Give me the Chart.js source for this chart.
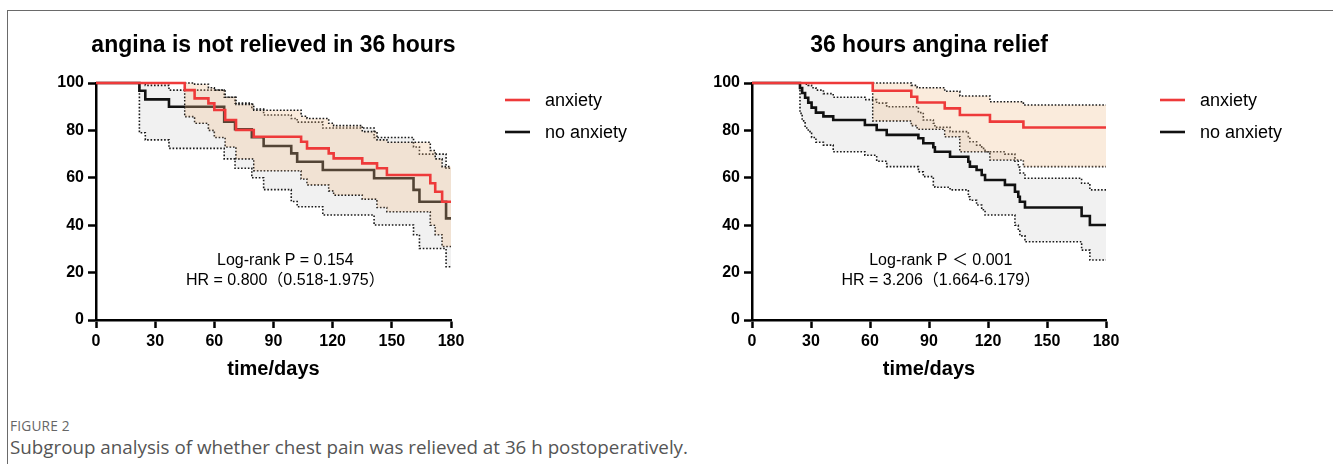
<!DOCTYPE html>
<html><head><meta charset="utf-8">
<script src="https://cdn.jsdelivr.net/npm/chart.js@4.4.1/dist/chart.umd.min.js"></script>
<style>
html,body{margin:0;padding:0;background:#fff;width:1333px;height:464px;overflow:hidden;}
#frame{position:absolute;left:7px;top:10px;width:1340px;height:520px;border:1px solid #6a6a6a;box-sizing:border-box;}
.cw{position:absolute;top:0;height:400px;}
#c1w{left:0;width:666px;}
#c2w{left:656px;width:677px;}
#cap1{position:absolute;left:10px;top:416px;font:13.7px 'Open Sans',sans-serif;color:#666;letter-spacing:0.2px;}
#cap2{position:absolute;left:10px;top:434px;font:18.8px 'Open Sans',sans-serif;color:#555;}
</style></head><body>
<div id="frame"></div>
<div class="cw" id="c1w"><canvas id="c1"></canvas></div>
<div class="cw" id="c2w"><canvas id="c2"></canvas></div>
<div id="cap1">FIGURE 2</div>
<div id="cap2">Subgroup analysis of whether chest pain was relieved at 36 h postoperatively.</div>
<script>
// ---- tick labels / text ----
const xTicks = [0, 30, 60, 90, 120, 150, 180];
const yTicks = [0, 20, 40, 60, 80, 100];
const seriesNames = ['anxiety', 'no anxiety'];
const panelTitles = ['angina is not relieved in 36 hours', '36 hours angina relief'];
const statsLeft = ['Log-rank P = 0.154', 'HR = 0.800（0.518-1.975）'];
const statsRight = ['Log-rank P ＜ 0.001', 'HR = 3.206（1.664-6.179）'];
const xTitle = 'time/days';

// ---- Left panel: angina not relieved in 36 h ----
const nrAnxT = [0, 45, 50, 57, 60, 65.5, 71, 80, 104, 107, 118, 120.5, 135, 142.5, 147.5, 169.5, 172, 175.5, 180];
const nrAnxS = [100, 97, 93.5, 91.4, 88.6, 84.4, 80.2, 77.3, 75.2, 72.4, 70.3, 68.2, 66.1, 64, 61.2, 57.7, 54.1, 49.9, 49.9];
const nrAnxU = [100, 100, 99.5, 98, 97, 94, 91, 88.5, 86, 85, 83, 82, 79.5, 76, 75, 71.5, 68, 64.7, 64.7];
const nrAnxL = [100, 85.8, 83, 80, 77, 73, 68, 63, 59.5, 57, 54.5, 52.7, 51, 47.5, 45.7, 40, 36, 31, 31];

const nrNoT = [0, 22, 25, 37, 65, 70.5, 79, 85, 99, 102, 115, 141, 161, 164, 177.5, 180];
const nrNoS = [100, 96.7, 93.1, 90, 83.7, 80.5, 77.1, 73.4, 70.3, 66.8, 63.3, 59.8, 54.9, 49.9, 42.9, 42.9];
const nrNoU = [100, 100, 99, 97, 94, 91.5, 89, 86.5, 85, 83.5, 81, 77, 73, 70, 64, 64];
const nrNoL = [100, 79, 76, 72.4, 68, 64, 60, 55, 50, 47.8, 44.3, 40.1, 36, 30.2, 22.5, 22.5];

// ---- Right panel: angina relieved in 36 h ----
const rAnxT = [0, 61.4, 81, 84, 98, 105.7, 121, 138, 180];
const rAnxS = [100, 96.7, 94.2, 91.8, 89.3, 86.5, 83.7, 81.2, 81.2];
const rAnxU = [100, 100, 99, 98, 96.5, 94.5, 92.1, 90.7, 90.7];
const rAnxL = [100, 84, 82, 80.5, 77.3, 71, 67.5, 64.7, 64.7];

const rNoT = [0, 24.4, 25.5, 27, 28.6, 30.3, 32.5, 36.3, 41.3, 57.4, 63.4, 68.5, 84.6, 87.1, 92.2, 93, 100.7, 110, 110.8, 114.2, 116.8, 118.5, 128.6, 133.7, 135.4, 136.2, 138.8, 167.6, 171.8, 180];
const rNoS = [100, 97.9, 95.8, 93.8, 91.7, 89.6, 87.5, 85.9, 84.4, 82.3, 80.2, 78.1, 76.7, 74.6, 72.9, 71, 68.9, 66.8, 64.7, 63.3, 61.2, 59.1, 57, 54.1, 52, 49.9, 47.5, 43.9, 40.1, 40.1];
const rNoU = [100, 100, 100, 99.5, 99, 98, 97, 95.5, 94, 93, 91.5, 90, 87.5, 84.4, 83, 81.3, 79.5, 77.3, 75.2, 73.8, 72.4, 71, 70, 67, 64.5, 62, 59.8, 57.7, 54.9, 54.9];
const rNoL = [100, 87.2, 84, 81, 79.5, 77, 75, 73.8, 71, 69.5, 67, 64.7, 62.5, 60.5, 56.2, 56, 54.9, 52, 50.5, 48.5, 46.5, 44.3, 44.3, 40, 37.5, 35.5, 33, 29.5, 25.3, 25.3];

// ---- styles ----
const RED = '#ee3a3a';
const BLACK = '#111111';
const ORANGE_FILL = 'rgba(240,190,140,0.30)';
const GREY_FILL = 'rgba(0,0,0,0.055)';
const FONT = '"Liberation Sans", Arial, "Noto Sans CJK SC", sans-serif';

function pts(t, v) { return t.map((x, i) => ({ x: x, y: v[i] })); }
function ciPts(t, v) { return [{ x: t[1], y: v[0] }].concat(pts(t, v).slice(1)); }

function groupSets(name, color, fillColor, T, S, U, L) {
  const base = { stepped: true, pointRadius: 0, pointHoverRadius: 0, clip: 4, tension: 0 };
  return [
    Object.assign({}, base, { label: name, legend: true, data: pts(T, S), borderColor: color, borderWidth: 2.6, fill: false, borderJoinStyle: 'miter' }),
    Object.assign({}, base, { label: name + ' upper', data: ciPts(T, U), borderColor: '#1a1a1a', borderWidth: 1.6, borderDash: [1.6, 1.8], fill: '+1', backgroundColor: fillColor }),
    Object.assign({}, base, { label: name + ' lower', data: ciPts(T, L), borderColor: '#1a1a1a', borderWidth: 1.6, borderDash: [1.6, 1.8], fill: false })
  ];
}

const textPlugin = {
  id: 'panelText',
  afterDraw(chart, args, o) {
    const { ctx, chartArea: a, scales } = chart;
    ctx.save();
    ctx.fillStyle = '#000';
    ctx.textAlign = 'center';
    ctx.textBaseline = 'middle';
    ctx.font = 'bold 23px ' + FONT;
    ctx.fillText(o.title, (a.left + a.right) / 2, a.top - 37);
    ctx.font = '16px ' + FONT;
    o.stats.forEach((s, i) => {
      ctx.fillText(s, scales.x.getPixelForValue(o.statX), scales.y.getPixelForValue(o.statY[i]));
    });
    // legend
    let k = 0;
    chart.data.datasets.forEach(ds => {
      if (!ds.legend) return;
      const yy = a.top + 17 + k * 32;
      ctx.strokeStyle = ds.borderColor;
      ctx.lineWidth = 2.6;
      ctx.beginPath();
      ctx.moveTo(a.right + 54, yy);
      ctx.lineTo(a.right + 79, yy);
      ctx.stroke();
      ctx.fillStyle = '#000';
      ctx.textAlign = 'left';
      ctx.font = '18px ' + FONT;
      ctx.fillText(ds.label, a.right + 94, yy + 1);
      k++;
    });
    ctx.restore();
  }
};

function makeChart(id, padRight, title, stats, anx, noanx) {
  const tickFont = { family: FONT, size: 16, weight: 'bold' };
  return new Chart(document.getElementById(id), {
    type: 'line',
    data: {
      datasets: groupSets(seriesNames[0], RED, ORANGE_FILL, anx[0], anx[1], anx[2], anx[3])
        .concat(groupSets(seriesNames[1], BLACK, GREY_FILL, noanx[0], noanx[1], noanx[2], noanx[3]))
    },
    options: {
      responsive: true, maintainAspectRatio: false, animation: false,
      events: [],
      layout: { padding: { left: 0, top: 83, right: padRight, bottom: 0 } },
      plugins: {
        legend: { display: false }, tooltip: { enabled: false }, title: { display: false },
        panelText: { title: title, stats: stats, statX: 96, statY: [25.2, 16.8] }
      },
      scales: {
        x: {
          type: 'linear', min: 0, max: 180,
          afterBuildTicks: s => { s.ticks = xTicks.map(v => ({ value: v })); },
          ticks: { font: tickFont, color: '#000', padding: 4, maxRotation: 0, autoSkip: false },
          grid: { drawOnChartArea: false, drawTicks: true, tickLength: 8, tickWidth: 2.5, tickColor: '#000' },
          border: { display: true, color: '#000', width: 2.5 },
          title: { display: true, text: xTitle, color: '#000', font: { family: FONT, size: 20, weight: 'bold' }, padding: { top: 0, bottom: 19 } },
          afterFit: s => { s.height = 80; }
        },
        y: {
          type: 'linear', min: 0, max: 100,
          afterBuildTicks: s => { s.ticks = yTicks.map(v => ({ value: v })); },
          ticks: { font: tickFont, color: '#000', padding: 4, autoSkip: false },
          grid: { drawOnChartArea: false, drawTicks: true, tickLength: 8, tickWidth: 2.5, tickColor: '#000' },
          border: { display: true, color: '#000', width: 2.5 },
          afterFit: s => { s.width = 96; }
        }
      }
    },
    plugins: [textPlugin]
  });
}

makeChart('c1', 215, panelTitles[0], statsLeft,
  [nrAnxT, nrAnxS, nrAnxU, nrAnxL], [nrNoT, nrNoS, nrNoU, nrNoL]);
makeChart('c2', 227, panelTitles[1], statsRight,
  [rAnxT, rAnxS, rAnxU, rAnxL], [rNoT, rNoS, rNoU, rNoL]);
</script>
</body></html>
